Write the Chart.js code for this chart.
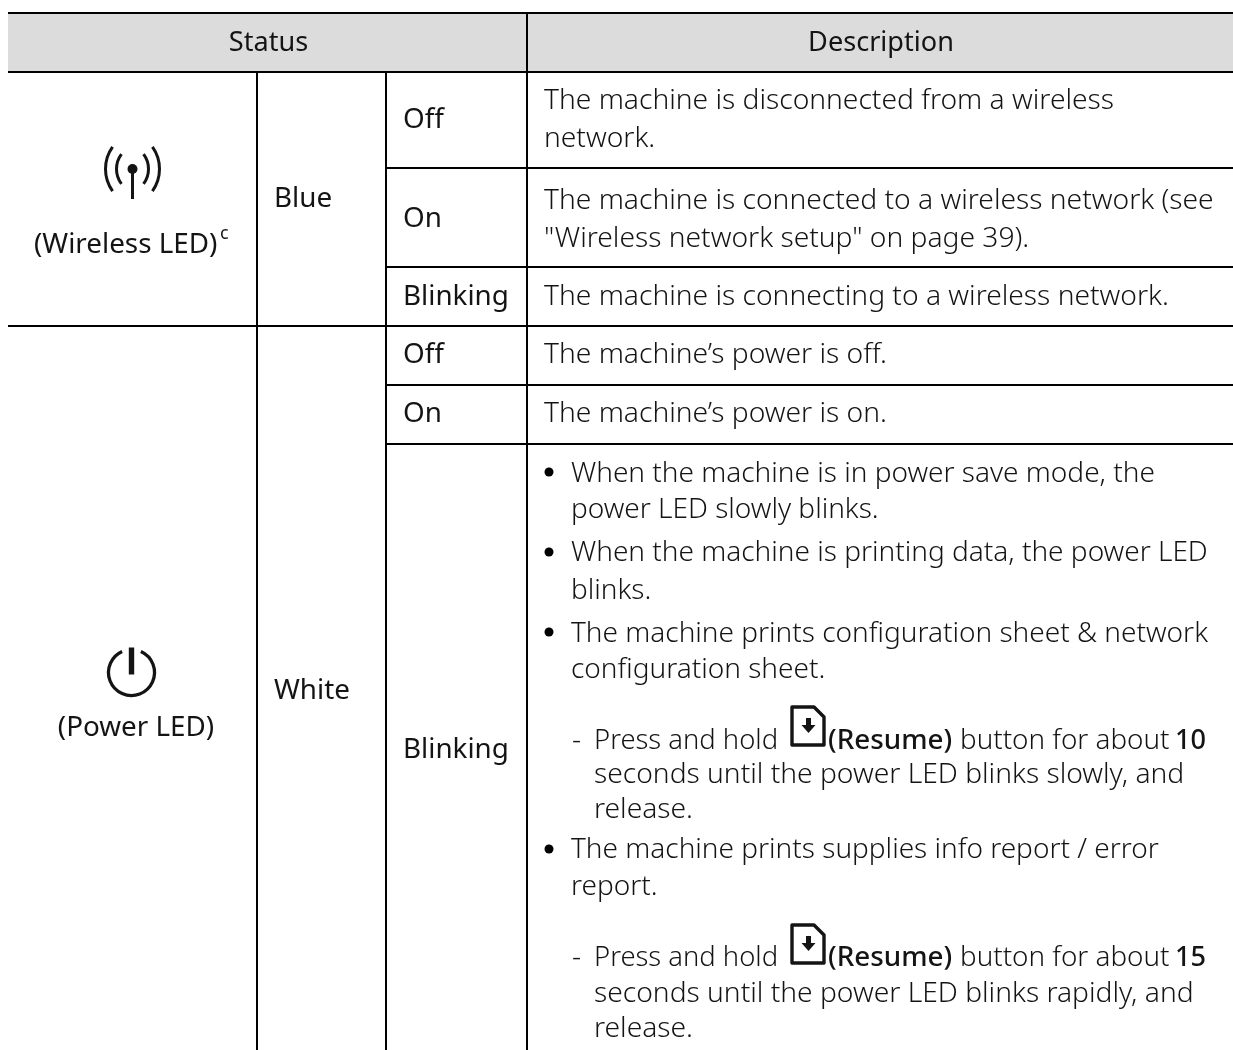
<!DOCTYPE html>
<html>
<head>
<meta charset="utf-8">
<script src="https://cdn.jsdelivr.net/npm/chart.js@4"></script>
<style>
  html, body { margin: 0; padding: 0; background: #fff; }
  #wrap { width: 1233px; height: 1050px; }
</style>
</head>
<body>
<div id="wrap"><canvas id="chart"></canvas></div>
<script>
// --- Table content ---
const headers = ['Status', 'Description']
const ledNames = ['(Wireless LED)', '(Power LED)']
const ledColors = ['Blue', 'White']
const ledStates = ['Off', 'On', 'Blinking', 'Off', 'On', 'Blinking']
const descLines = [
  'The machine is disconnected from a wireless',
  'network.',
  'The machine is connected to a wireless network (see',
  '"Wireless network setup" on page 39).',
  'The machine is connecting to a wireless network.',
  'The machine\u2019s power is off.',
  'The machine\u2019s power is on.',
  'When the machine is in power save mode, the',
  'power LED slowly blinks.',
  'When the machine is printing data, the power LED',
  'blinks.',
  'The machine prints configuration sheet & network',
  'configuration sheet.',
  'seconds until the power LED blinks slowly, and',
  'release.',
  'The machine prints supplies info report / error',
  'report.',
  'seconds until the power LED blinks rapidly, and',
  'release.'
]
const holdSeconds = ['10', '15']

// --- Table geometry (in page pixels, the axes run 0-1233 and 1050-0) ---
const colEdges = [8, 257, 386, 527]
const tableRight = 1233
const tableTop = 13
const headerBottom = 72
const stateRowEdges = [168, 267, 385, 444]
const groupRowEdge = 326

const descX = [544, 544, 544, 544, 544, 544, 544, 571, 571, 571, 571, 571, 571, 594, 594, 571, 571, 594, 594]
const descY = [109, 147, 209, 247, 305, 363, 422, 482, 518, 561, 599, 642, 678, 783, 818, 858, 895, 1002, 1037]
const stateY = [128, 227, 305, 363, 422, 758]
const bulletY = [472, 552, 632, 849]
const holdY = [749, 966]
const iconY = [705, 923]

const ink = '#141414'
const fontFamily = '"Noto Sans", sans-serif'
const labelSize = 27.8
const descSize = 28.2
const bulletSize = 28

// Every text goes through the chart's own scales
const tablePlugin = {
  id: 'tableText',
  afterDatasetsDraw(chart) {
    const ctx = chart.ctx
    const sx = v => chart.scales.x.getPixelForValue(v)
    const sy = v => chart.scales.y.getPixelForValue(v)

    function text(str, x, y, align, size, weight) {
      ctx.font = (weight || 400) + ' ' + (size || labelSize) + 'px ' + fontFamily
      ctx.textAlign = align || 'left'
      ctx.textBaseline = 'alphabetic'
      ctx.fillStyle = ink
      ctx.fillText(str, sx(x), sy(y))
    }

    ctx.save()
    text(headers[0], 268.5, 51, 'center', 27.1)
    text(headers[1], 881, 51, 'center', 27.1)

    text(ledNames[0], 34, 253)
    text('c', 220, 239, 'left', 18)
    text(ledNames[1], 136, 736, 'center')

    text(ledColors[0], 274, 207)
    text(ledColors[1], 274, 699)

    ledStates.forEach((s, i) => text(s, 403, stateY[i]))
    descLines.forEach((s, i) => {
      text(s, descX[i], descY[i], 'left', descX[i] === 571 ? bulletSize : descSize, 300)
    })

    // "- Press and hold [icon](Resume) button for about N"
    holdY.forEach((y, i) => {
      text('-', 572, y, 'left', descSize, 300)
      text('Press and hold', 594, y, 'left', 27.4, 300)
      text('(Resume)', 828, y, 'left', 27.8, 500)
      text('button for about', 960, y, 'left', 27.8, 300)
      text(holdSeconds[i], 1175, y, 'left', 27.1, 500)
      drawResumeIcon(ctx, sx(790), sy(iconY[i]))
    })

    drawWirelessIcon(ctx, sx(132.5), sy(169))
    drawPowerIcon(ctx, sx(131.5), sy(672.5))
    ctx.restore()
  }
}

function drawWirelessIcon(ctx, cx, cy) {
  ctx.save()
  ctx.strokeStyle = ink
  ctx.fillStyle = ink
  ctx.lineWidth = 3
  // the arcs are flatter than circles round the dot, so each has its own centre
  ;[[38, 0.62, 27], [25, 0.64, 16]].forEach(([r, a, reach]) => {
    ctx.beginPath()
    ctx.arc(cx - reach + r, cy, r, Math.PI - a, Math.PI + a)
    ctx.stroke()
    ctx.beginPath()
    ctx.arc(cx + reach - r, cy, r, -a, a)
    ctx.stroke()
  })
  ctx.beginPath()
  ctx.arc(cx, cy, 5, 0, Math.PI * 2)
  ctx.fill()
  ctx.fillRect(cx - 1.5, cy, 3, 30)
  ctx.restore()
}

function drawPowerIcon(ctx, cx, cy) {
  ctx.save()
  ctx.strokeStyle = ink
  ctx.fillStyle = ink
  ctx.lineWidth = 3.3
  ctx.beginPath()
  ctx.arc(cx, cy, 23, -Math.PI / 2 + 0.42, -Math.PI / 2 - 0.42)
  ctx.stroke()
  ctx.fillRect(cx - 2.7, cy - 25, 5.4, 27)
  ctx.restore()
}

function drawResumeIcon(ctx, x, y) {
  ctx.save()
  ctx.strokeStyle = ink
  ctx.fillStyle = ink
  ctx.lineWidth = 3.4
  ctx.lineJoin = 'round'
  ctx.beginPath()
  ctx.moveTo(x + 2, y + 2)
  ctx.lineTo(x + 24, y + 2)
  ctx.lineTo(x + 34, y + 12)
  ctx.lineTo(x + 34, y + 40)
  ctx.lineTo(x + 2, y + 40)
  ctx.closePath()
  ctx.stroke()
  ctx.fillRect(x + 16, y + 13, 5, 8)
  ctx.beginPath()
  ctx.moveTo(x + 11.5, y + 20)
  ctx.lineTo(x + 25.5, y + 20)
  ctx.lineTo(x + 18.5, y + 28)
  ctx.closePath()
  ctx.fill()
  ctx.restore()
}

// --- Rules, header band and bullets as chart datasets ---
function rule(x0, y0, x1, y1) {
  return {
    type: 'line',
    data: [{ x: x0, y: y0 }, { x: x1, y: y1 }],
    borderColor: '#000',
    borderWidth: 2,
    borderCapStyle: 'butt',
    pointRadius: 0,
    fill: false,
    order: 1
  }
}

const datasets = [
  // header band: top edge filled down to the next dataset, drawn under the rules
  {
    type: 'line',
    data: [{ x: colEdges[0], y: tableTop }, { x: tableRight, y: tableTop }],
    borderColor: 'rgba(0,0,0,0)',
    backgroundColor: '#dcdcdc',
    pointRadius: 0,
    fill: '+1',
    order: 5
  },
  {
    type: 'line',
    data: [{ x: colEdges[0], y: headerBottom }, { x: tableRight, y: headerBottom }],
    borderColor: 'rgba(0,0,0,0)',
    pointRadius: 0,
    fill: false,
    order: 5
  },
  rule(colEdges[0], tableTop, tableRight, tableTop),
  rule(colEdges[0], headerBottom, tableRight, headerBottom),
  rule(colEdges[0], groupRowEdge, tableRight, groupRowEdge),
  rule(colEdges[1], headerBottom, colEdges[1], 1050),
  rule(colEdges[2], headerBottom, colEdges[2], 1050),
  rule(colEdges[3], tableTop, colEdges[3], 1050),
  ...stateRowEdges.map(y => rule(colEdges[2], y, tableRight, y)),
  {
    type: 'scatter',
    data: bulletY.map(y => ({ x: 549, y: y })),
    pointStyle: 'circle',
    pointRadius: 4.5,
    backgroundColor: '#000',
    borderWidth: 0,
    order: 1
  }
]

new Chart(document.getElementById('chart'), {
  type: 'scatter',
  data: { datasets },
  options: {
    responsive: true,
    maintainAspectRatio: false,
    animation: false,
    layout: { padding: 0, autoPadding: false },
    plugins: { legend: { display: false }, tooltip: { enabled: false } },
    scales: {
      x: { type: 'linear', display: false, min: 0, max: 1233 },
      y: { type: 'linear', display: false, min: 0, max: 1050, reverse: true }
    }
  },
  plugins: [tablePlugin]
})
</script>
</body>
</html>
